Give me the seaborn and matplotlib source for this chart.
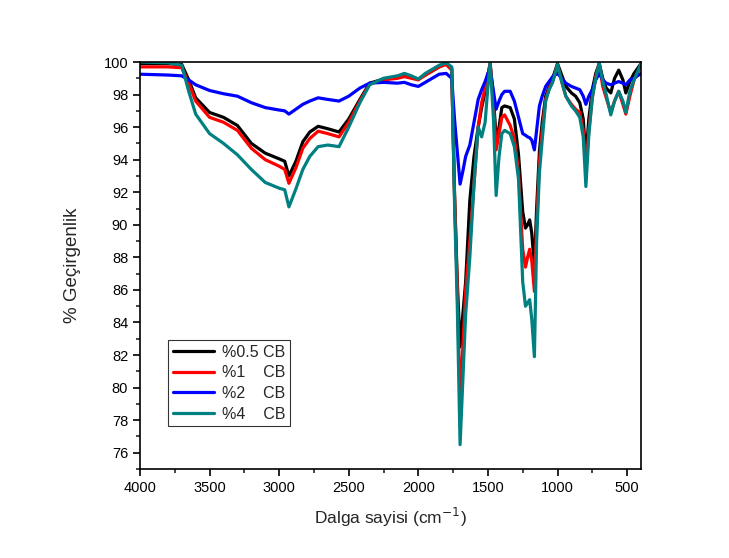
import numpy as np
import pandas as pd
import matplotlib
matplotlib.use("Agg")
import matplotlib.pyplot as plt
import seaborn as sns
from matplotlib.ticker import MultipleLocator
from matplotlib.lines import Line2D

wavenumber = [4000, 3800, 3700, 3650, 3600, 3500, 3400, 3300, 3200, 3100, 3000, 2960, 2930,
              2880, 2830, 2780, 2720, 2650, 2570, 2500, 2420, 2350, 2250, 2150, 2100, 2050,
              2000, 1950, 1900, 1850, 1800, 1760, 1740, 1720, 1700, 1680, 1660, 1630, 1600,
              1570, 1545, 1520, 1500, 1484, 1460, 1441, 1420, 1400, 1380, 1340, 1310, 1280,
              1250, 1230, 1215, 1200, 1185, 1166, 1150, 1130, 1110, 1085, 1060, 1035, 1000,
              970, 940, 900, 870, 840, 815, 796, 775, 750, 725, 700, 675, 650, 617, 590,
              560, 530, 509, 480, 450, 400]

cb_05 = [99.9, 99.9, 99.85, 98.9, 97.8, 96.9, 96.6, 96.1, 95.0, 94.4, 94.05, 93.9, 93.0,
         93.9, 95.1, 95.7, 96.05, 95.9, 95.7, 96.5, 97.7, 98.7, 98.95, 99.05, 99.2, 99.1,
         98.95, 99.2, 99.45, 99.7, 99.9, 99.6, 92.0, 86.5, 82.5, 84.5, 86.5, 91.5, 94.2,
         96.0, 97.2, 98.2, 99.2, 99.9, 97.8, 95.3, 96.0, 97.2, 97.3, 97.2, 96.5, 94.3,
         90.8, 89.8, 90.0, 90.3, 89.5, 87.4, 91.0, 94.5, 96.3, 97.9, 98.5, 99.0, 99.9,
         99.2, 98.5, 98.1, 97.9, 97.5, 96.5, 94.1, 96.5, 98.3, 99.3, 99.9, 99.0, 98.4,
         98.1, 99.0, 99.5, 98.9, 98.1, 98.8, 99.3, 99.9]

cb_1 = [99.7, 99.7, 99.65, 98.7, 97.6, 96.6, 96.3, 95.8, 94.7, 94.0, 93.6, 93.4, 92.55,
        93.5, 94.7, 95.3, 95.75, 95.6, 95.4, 96.3, 97.6, 98.65, 98.9, 99.0, 99.1, 99.0,
        98.9, 99.2, 99.45, 99.7, 99.85, 99.5, 91.8, 86.0, 79.2, 82.5, 86.0, 89.0, 92.5,
        96.0, 97.5, 98.4, 99.2, 99.9, 97.5, 94.6, 95.6, 96.6, 96.75, 96.1, 95.3, 93.2,
        88.5, 87.4, 88.0, 88.5, 87.8, 85.9, 90.0, 93.8, 95.8, 97.7, 98.4, 98.8, 99.8,
        98.8, 97.9, 97.4, 97.1, 96.9, 95.8, 93.3, 95.8, 97.8, 99.1, 99.9, 98.5, 97.8,
        96.9, 97.6, 98.2, 97.4, 96.8, 97.9, 98.9, 99.8]

cb_2 = [99.25, 99.2, 99.15, 98.9, 98.6, 98.25, 98.05, 97.9, 97.5, 97.2, 97.05, 97.0, 96.8,
        97.1, 97.4, 97.6, 97.8, 97.7, 97.6, 97.9, 98.4, 98.7, 98.75, 98.7, 98.75, 98.6,
        98.5, 98.75, 99.0, 99.25, 99.3, 99.0, 96.5, 94.5, 92.5, 93.3, 94.2, 94.9, 96.3,
        97.7, 98.3, 98.8, 99.3, 99.5, 98.2, 97.1, 97.6, 98.0, 98.2, 98.2, 97.6, 96.6,
        95.6, 95.5, 95.4, 95.35, 95.2, 94.6, 95.8, 97.3, 97.9, 98.5, 98.8, 99.1, 99.3,
        99.0, 98.7, 98.5, 98.4, 98.3, 97.9, 97.4, 97.9, 98.3, 98.9, 99.3, 98.9, 98.7,
        98.6, 98.7, 98.8, 98.7, 98.6, 98.9, 99.0, 99.3]

cb_4 = [100.0, 99.95, 99.8, 98.2, 96.8, 95.6, 95.0, 94.3, 93.4, 92.6, 92.25, 92.15, 91.1,
        92.2, 93.4, 94.2, 94.8, 94.9, 94.8, 96.0, 97.5, 98.6, 99.0, 99.15, 99.3, 99.15,
        98.95, 99.3, 99.55, 99.8, 99.95, 99.7, 91.3, 85.0, 76.5, 80.5, 84.5, 88.0, 92.5,
        96.0, 95.4, 96.3, 98.5, 99.95, 96.5, 91.8, 94.2, 95.6, 95.8, 95.6, 94.8, 92.8,
        86.5, 85.0, 85.2, 85.4, 84.2, 81.9, 89.0, 93.2, 95.2, 97.6, 98.3, 98.75, 99.85,
        98.8, 97.9, 97.3, 97.0, 96.6, 95.4, 92.35, 95.5, 97.8, 99.0, 99.95, 98.8, 98.0,
        96.75, 97.6, 98.2, 97.6, 96.9, 98.2, 98.9, 99.9]

series_labels = ["%0.5 CB", "%1    CB", "%2    CB", "%4    CB"]
series_colors = ["#000000", "#ff0000", "#0000ff", "#008080"]

frames = []
for lab, vals in zip(series_labels, [cb_05, cb_1, cb_2, cb_4]):
    frames.append(pd.DataFrame({"wn": wavenumber, "T": vals, "series": lab}))
df = pd.concat(frames, ignore_index=True)

sns.set_theme(style="ticks")
plt.rcParams["font.family"] = ["Liberation Sans", "DejaVu Sans"]

fig = plt.figure(figsize=(7.29, 5.58), dpi=100)
ax = fig.add_axes([140 / 729, 1 - 469 / 558, 501 / 729, 407 / 558])

sns.lineplot(data=df, x="wn", y="T", hue="series", hue_order=series_labels,
             palette=series_colors, estimator=None, sort=False, linewidth=2.3,
             ax=ax, legend=False)

ax.set_xlim(4000, 400)
ax.set_ylim(75, 100)
ax.xaxis.set_major_locator(MultipleLocator(500))
ax.xaxis.set_minor_locator(MultipleLocator(250))
ax.yaxis.set_minor_locator(MultipleLocator(1))
ax.set_yticks(np.arange(76, 101, 2))
ax.tick_params(which="major", direction="out", length=5, width=1.2, labelsize=10.5,
               top=False, right=False, color="black", labelcolor="black")
ax.tick_params(which="minor", direction="out", length=3, width=1.2, top=False, right=False)
for s in ax.spines.values():
    s.set_visible(True)
    s.set_linewidth(1.2)
    s.set_color("black")

ax.set_xlabel("Dalga sayisi (cm$^{-1}$)", fontsize=12.5, labelpad=8)
ax.set_ylabel("% Geçirgenlik", fontsize=13.5, labelpad=16)

handles = [Line2D([0], [0], color=c, lw=2.3) for c in series_colors]
leg = ax.legend(handles, series_labels, loc="upper left", bbox_to_anchor=(0.056, 0.317),
                fontsize=11.5, frameon=True, fancybox=False, edgecolor="black",
                handlelength=2.6, handletextpad=0.45, labelspacing=0.35, borderpad=0.3,
                borderaxespad=0)
leg.get_frame().set_linewidth(0.8)

fig.savefig("out.png", dpi=100, facecolor="white")
